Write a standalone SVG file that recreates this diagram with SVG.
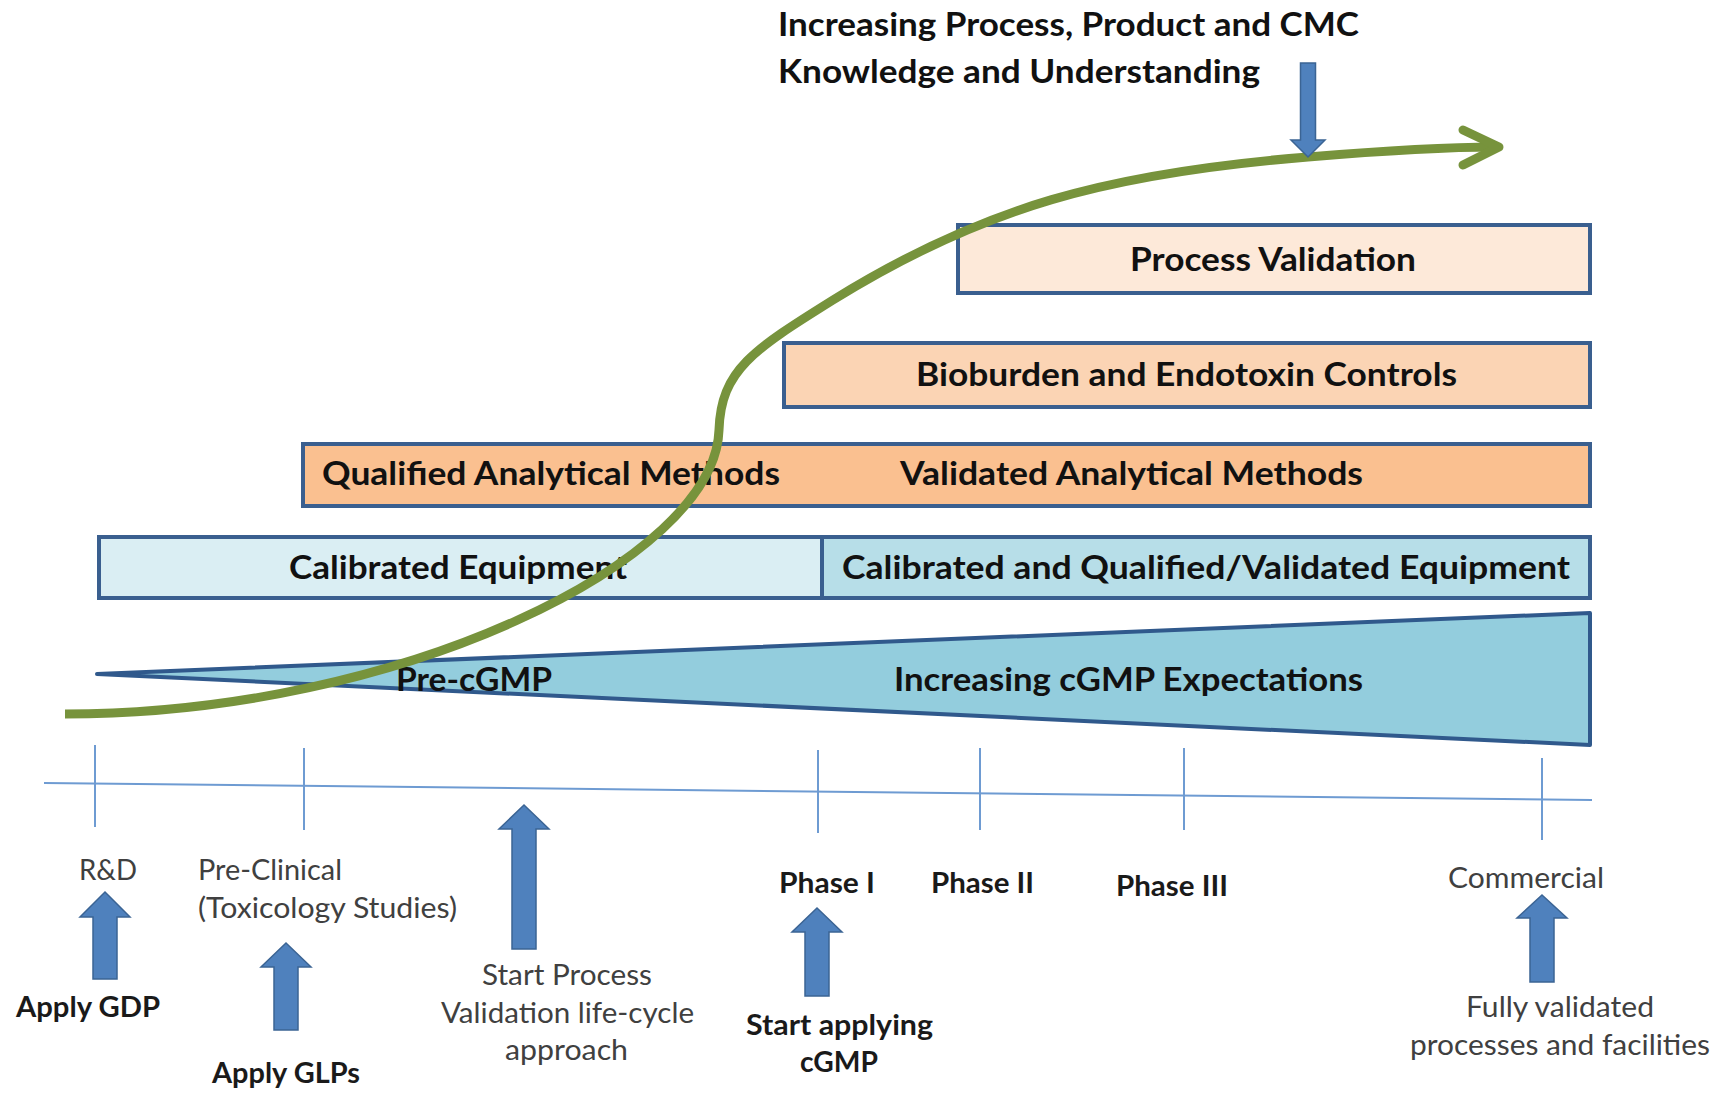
<svg xmlns="http://www.w3.org/2000/svg" width="1721" height="1093" viewBox="0 0 1721 1093">
  <defs>
    <style>
      .t{font-family:Lato,"Open Sans","Liberation Sans",sans-serif}
      .hb{font-weight:700;fill:#111111;font-size:33px}
      .lb{font-weight:700;fill:#1a1a1a;font-size:28.5px}
      .lr{font-weight:400;fill:#404040;font-size:28.5px}
      .box{stroke:#3A5F8F;stroke-width:4}
      .arrow{fill:#4F81BD;stroke:#3B6494;stroke-width:1.5}
      .axis{stroke:#6E9BD2;stroke-width:2;fill:none}
      .growth{fill:none;stroke:#77933C;stroke-width:9}
    </style>
  </defs>
  <rect width="1721" height="1093" fill="#ffffff"/>

  <!-- heading -->
  <g id="heading">
    <text class="t hb" x="778" y="36" textLength="581" lengthAdjust="spacingAndGlyphs">Increasing Process, Product and CMC</text>
    <text class="t hb" x="778" y="83" textLength="482" lengthAdjust="spacingAndGlyphs">Knowledge and Understanding</text>
  </g>

  <!-- stacked capability bars -->
  <g id="process-validation">
    <rect class="box" x="958" y="225" width="632" height="68" fill="#FDE9D9"/>
    <text class="t hb" x="1130" y="271" textLength="286" lengthAdjust="spacingAndGlyphs">Process Validation</text>
  </g>
  <g id="bioburden-endotoxin">
    <rect class="box" x="784" y="343" width="806" height="64" fill="#FBD4B4"/>
    <text class="t hb" x="916" y="386" textLength="541" lengthAdjust="spacingAndGlyphs">Bioburden and Endotoxin Controls</text>
  </g>
  <g id="analytical-methods">
    <rect class="box" x="303" y="444" width="1287" height="62" fill="#FAC090"/>
    <text class="t hb" x="322" y="485" textLength="458" lengthAdjust="spacingAndGlyphs">Qualified Analytical Methods</text>
    <text class="t hb" x="900" y="485" textLength="463" lengthAdjust="spacingAndGlyphs">Validated Analytical Methods</text>
  </g>
  <g id="calibrated-equipment">
    <rect class="box" x="99" y="537" width="723" height="61" fill="#DAEEF3"/>
    <text class="t hb" x="289" y="579" textLength="338" lengthAdjust="spacingAndGlyphs">Calibrated Equipment</text>
  </g>
  <g id="qualified-equipment">
    <rect class="box" x="822" y="537" width="768" height="61" fill="#B7DEE8"/>
    <text class="t hb" x="842" y="579" textLength="728" lengthAdjust="spacingAndGlyphs">Calibrated and Qualified/Validated Equipment</text>
  </g>
  <g id="cgmp-wedge">
    <polygon points="97,674 1590,613 1590,745" fill="#93CDDD" stroke="#30598C" stroke-width="4" stroke-linejoin="round"/>
    <text class="t hb" x="396" y="691" textLength="156" lengthAdjust="spacingAndGlyphs">Pre-cGMP</text>
    <text class="t hb" x="894" y="691" textLength="469" lengthAdjust="spacingAndGlyphs">Increasing cGMP Expectations</text>
  </g>

  <!-- development timeline -->
  <g id="timeline">
    <path class="axis" d="M44 783 L1592 800"/>
    <path class="axis" d="M95 745 V827 M304 748 V830 M818 750 V833 M980 748 V830 M1184 748 V830 M1542 758 V840"/>
  </g>

  <g id="stage-labels">
    <text class="t lr" x="79" y="880" textLength="58" lengthAdjust="spacingAndGlyphs">R&amp;D</text>
    <text class="t lr" x="198" y="880" textLength="144" lengthAdjust="spacingAndGlyphs">Pre-Clinical</text>
    <text class="t lr" x="198" y="918" textLength="259" lengthAdjust="spacingAndGlyphs">(Toxicology Studies)</text>
    <text class="t lb" x="779" y="893" textLength="96" lengthAdjust="spacingAndGlyphs">Phase I</text>
    <text class="t lb" x="931" y="893" textLength="103" lengthAdjust="spacingAndGlyphs">Phase II</text>
    <text class="t lb" x="1116" y="896" textLength="112" lengthAdjust="spacingAndGlyphs">Phase III</text>
    <text class="t lr" x="1448" y="888" textLength="156" lengthAdjust="spacingAndGlyphs">Commercial</text>
  </g>

  <g id="milestone-labels">
    <text class="t lb" x="16" y="1017" textLength="144" lengthAdjust="spacingAndGlyphs">Apply GDP</text>
    <text class="t lb" x="212" y="1083" textLength="148" lengthAdjust="spacingAndGlyphs">Apply GLPs</text>
    <text class="t lr" x="482" y="985" textLength="170" lengthAdjust="spacingAndGlyphs">Start Process</text>
    <text class="t lr" x="441" y="1023" textLength="253" lengthAdjust="spacingAndGlyphs">Validation life-cycle</text>
    <text class="t lr" x="505" y="1060" textLength="123" lengthAdjust="spacingAndGlyphs">approach</text>
    <text class="t lb" x="746" y="1035" textLength="187" lengthAdjust="spacingAndGlyphs">Start applying</text>
    <text class="t lb" x="800" y="1072" textLength="78" lengthAdjust="spacingAndGlyphs">cGMP</text>
    <text class="t lr" x="1466" y="1017" textLength="188" lengthAdjust="spacingAndGlyphs">Fully validated</text>
    <text class="t lr" x="1410" y="1055" textLength="300" lengthAdjust="spacingAndGlyphs">processes and facilities</text>
  </g>

  <!-- connectors: knowledge growth curve and block arrows -->
  <g id="connectors">
    <path class="growth" d="M65 714 C400 714 715 560 719 430 C721 370 753 350 833 300 C983 207 1108 173 1308 157 C1368 152 1450 147 1496 147"/>
    <path class="growth" d="M1463 130 L1499 147 L1463 165" stroke-linecap="round" stroke-linejoin="round"/>
    <path class="arrow" d="M1300.5 63 L1315.5 63 L1315.5 140 L1325 140 L1308 157 L1291 140 L1300.5 140 Z"/>
    <path class="arrow" d="M105 892 L130 917 L117 917 L117 979 L93 979 L93 917 L80 917 Z"/>
    <path class="arrow" d="M286 943 L311 967 L298 967 L298 1030 L274 1030 L274 967 L261 967 Z"/>
    <path class="arrow" d="M524 805 L549 829 L536 829 L536 949 L512 949 L512 829 L499 829 Z"/>
    <path class="arrow" d="M817 908 L842 932 L829 932 L829 996 L805 996 L805 932 L792 932 Z"/>
    <path class="arrow" d="M1542 895 L1567 918 L1554 918 L1554 982 L1530 982 L1530 918 L1517 918 Z"/>
  </g>
</svg>
